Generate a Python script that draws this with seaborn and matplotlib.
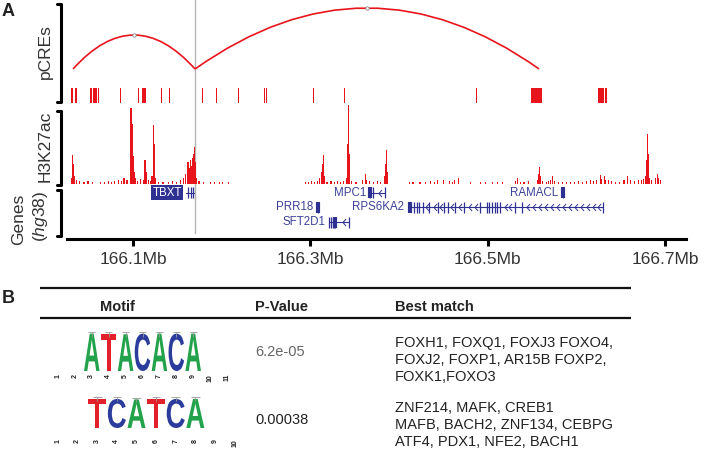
import matplotlib
matplotlib.use("Agg")
import matplotlib.pyplot as plt
import seaborn as sns
from matplotlib.path import Path
from matplotlib.patches import PathPatch
from matplotlib.textpath import TextPath
from matplotlib.font_manager import FontProperties
from matplotlib.transforms import Affine2D

sns.set_style("white")
plt.rcParams["font.family"] = ["Liberation Sans", "DejaVu Sans"]
plt.rcParams["mathtext.fontset"] = "custom"
plt.rcParams["mathtext.rm"] = "Liberation Sans"
plt.rcParams["mathtext.it"] = "Liberation Sans:italic"

# ---------------- data: panel A ----------------
x_range = (166.0255, 166.7237)
x_ticks = [166.1, 166.3, 166.5, 166.7]
focus_pos = 166.1699

loop_start = [166.0323, 166.1699]
loop_end = [166.1699, 166.5580]
loop_score = [34, 61]

pcre_start = [166.0301, 166.0346, 166.0515, 166.0545, 166.0609, 166.0853, 166.1053,
              166.1102, 166.1312, 166.1409, 166.1782, 166.1933, 166.2184, 166.2481,
              166.2500, 166.3034, 166.3383, 166.4866, 166.5490, 166.6242, 166.6328]
pcre_end = [166.0320, 166.0372, 166.0534, 166.0597, 166.0620, 166.0865, 166.1065,
            166.1150, 166.1324, 166.1421, 166.1794, 166.1945, 166.2196, 166.2493,
            166.2512, 166.3046, 166.3395, 166.4878, 166.5610, 166.6316, 166.6347]

k27_pos = [166.0301, 166.0312, 166.0323, 166.0334, 166.0357, 166.0391, 166.0447, 166.0492,
           166.0538, 166.0628, 166.0673, 166.0718, 166.0752, 166.0786, 166.0831, 166.0865,
           166.0898, 166.0932, 166.0966, 166.0977, 166.0989, 166.1000, 166.1011, 166.1023,
           166.1045, 166.1079, 166.1113, 166.1135, 166.1147, 166.1169, 166.1192, 166.1214,
           166.1226, 166.1237, 166.1248, 166.1282, 166.1338, 166.1395, 166.1440, 166.1485,
           166.1530, 166.1564, 166.1587, 166.1609, 166.1620, 166.1632, 166.1643, 166.1654,
           166.1666, 166.1677, 166.1688, 166.1699, 166.1711, 166.1744, 166.1790, 166.1869,
           166.1914, 166.1970, 166.2004, 166.2072, 166.2940, 166.2974, 166.3008, 166.3042,
           166.3076, 166.3098, 166.3121, 166.3132, 166.3143, 166.3154, 166.3188, 166.3233,
           166.3267, 166.3301, 166.3335, 166.3369, 166.3403, 166.3414, 166.3425, 166.3436,
           166.3459, 166.3515, 166.3583, 166.3617, 166.3628, 166.3662, 166.3707, 166.3752,
           166.3786, 166.3831, 166.3843, 166.3854, 166.3865, 166.4113, 166.4158, 166.4237,
           166.4294, 166.4350, 166.4395, 166.4429, 166.4497, 166.4565, 166.4598, 166.4621,
           166.4666, 166.4801, 166.4914, 166.4971, 166.5050, 166.5106, 166.5162, 166.5309,
           166.5332, 166.5365, 166.5410, 166.5456, 166.5557, 166.5568, 166.5580, 166.5591,
           166.5614, 166.5659, 166.5681, 166.5704, 166.5726, 166.5749, 166.5794, 166.5839,
           166.5884, 166.5929, 166.5975, 166.6020, 166.6065, 166.6110, 166.6155, 166.6189,
           166.6223, 166.6268, 166.6279, 166.6313, 166.6324, 166.6358, 166.6392, 166.6437,
           166.6482, 166.6538, 166.6572, 166.6606, 166.6651, 166.6696, 166.6730, 166.6753,
           166.6775, 166.6787, 166.6798, 166.6809, 166.6821, 166.6843, 166.6888, 166.6911,
           166.6922, 166.6945]
k27_val = [6, 29, 20, 8, 4, 3, 2, 3,
           2, 2, 2, 3, 2, 3, 4, 3,
           6, 4, 10, 76, 60, 28, 12, 6,
           3, 5, 4, 24, 12, 4, 3, 8,
           59, 40, 6, 2, 2, 2, 3, 2,
           4, 6, 10, 14, 22, 16, 24, 18,
           26, 30, 37, 22, 6, 3, 2, 2,
           2, 2, 2, 2, 2, 2, 3, 2,
           3, 6, 12, 20, 29, 8, 2, 3,
           2, 3, 2, 3, 6, 40, 79, 30,
           3, 2, 4, 10, 4, 3, 2, 3,
           2, 8, 20, 34, 12, 2, 2, 2,
           2, 3, 2, 4, 4, 3, 2, 4,
           6, 2, 2, 2, 2, 2, 2, 3,
           6, 2, 2, 3, 4, 10, 17, 8,
           3, 2, 3, 4, 8, 3, 2, 2,
           2, 2, 2, 3, 2, 3, 4, 3,
           4, 9, 5, 8, 4, 4, 3, 2,
           2, 4, 8, 4, 3, 4, 4, 5,
           8, 24, 50, 30, 6, 4, 6, 10,
           6, 4]

gene_name = ["TBXT", "MPC1", "RAMACL", "PRR18", "RPS6KA2", "SFT2D1"]
gene_row = [0, 0, 0, 1, 1, 2]
gene_start = [166.1598, 166.3673, 166.5839, 166.3076, 166.4102, 166.3211]
gene_end = [166.1688, 166.3843, 166.5862, 166.3098, 166.6302, 166.3436]
gene_exons = [
    [166.1624, 166.1651, 166.1673],
    [166.3676, 166.3707, 166.3843],
    [166.5850],
    [166.3087],
    [166.4170, 166.4204, 166.4226, 166.4271, 166.4339, 166.4440, 166.4508, 166.4553,
     166.4632, 166.4734, 166.4914, 166.4993, 166.5016, 166.5050, 166.5083, 166.5106,
     166.5140, 166.5309, 166.5388, 166.6302],
    [166.3211, 166.3233, 166.3256, 166.3267, 166.3278, 166.3436],
]
gene_thick = [[], [166.3676], [166.5850], [166.3087], [166.4120], [166.3278]]
gene_arrows = [
    [],
    [166.3786],
    [],
    [],
    [166.4316, 166.4407, 166.4474, 166.4598, 166.4689, 166.4801, 166.4869, 166.5207,
     166.5253, 166.5456, 166.5523, 166.5591, 166.5659, 166.5726, 166.5794, 166.5862,
     166.5929, 166.5997, 166.6065, 166.6132, 166.6200, 166.6256],
    [166.3380],
]

# ---------------- data: panel B ----------------
motif_letters = ["ATACACA", "TCATCA"]
motif_length = [11, 10]
motif_first = [3, 3]
motif_heights = [[1.95, 1.95, 1.92, 1.95, 1.95, 1.95, 1.95], [1.95, 1.95, 1.92, 1.95, 1.95, 1.95]]
p_values = ["6.2e-05", "0.00038"]
best_match = [
    ["FOXH1, FOXQ1, FOXJ3 FOXO4,", "FOXJ2, FOXP1, AR15B FOXP2,", "FOXK1,FOXO3"],
    ["ZNF214, MAFK, CREB1", "MAFB, BACH2, ZNF134, CEBPG", "ATF4, PDX1, NFE2, BACH1"],
]

RED = "#e8141c"
NAVY = "#2e3192"
GENE_TXT = "#3c4199"
GREY = "#b4b4b4"
TXT = "#333333"
LETTER_COL = {"A": "#22a24a", "T": "#e2202b", "C": "#2c3c9c"}

W, H = 709, 451
fig = plt.figure(figsize=(W / 100, H / 100), dpi=100)


def px_axes(x0, y0, x1, y1):
    return fig.add_axes([x0 / W, 1 - y1 / H, (x1 - x0) / W, (y1 - y0) / H])


# overlay for brackets, labels and table
ov = px_axes(0, 0, W, H)
ov.set_xlim(0, W)
ov.set_ylim(H, 0)
ov.axis("off")

AX0, AX1 = 67, 686
ax_arc = px_axes(AX0, 0, AX1, 84)
ax_pcre = px_axes(AX0, 84, AX1, 104)
ax_k27 = px_axes(AX0, 104, AX1, 186)
ax_gene = px_axes(AX0, 186, AX1, 238.5)

for ax in [ax_arc, ax_pcre, ax_k27, ax_gene]:
    ax.set_xlim(*x_range)
    ax.set_facecolor("none")

# ---- loops ----
ax_arc.set_ylim(-15, 69)
ax_arc.axis("off")
for s, e, h in zip(loop_start, loop_end, loop_score):
    mid = (s + e) / 2
    path = Path([(s, 0), (mid, 2 * h), (e, 0)], [Path.MOVETO, Path.CURVE3, Path.CURVE3])
    ax_arc.add_patch(PathPatch(path, fc="none", ec=RED, lw=1.2, zorder=3, clip_on=False))
apex_x = [(s + e) / 2 for s, e in zip(loop_start, loop_end)]
sns.scatterplot(x=apex_x, y=loop_score, ax=ax_arc, s=6, color="white",
                edgecolor="#888888", linewidth=0.6, zorder=4, legend=False)
ax_arc.axvline(focus_pos, color=GREY, lw=1.0, zorder=1)

# ---- pCREs ----
ax_pcre.set_ylim(0, 20)
ax_pcre.axis("off")
ax_pcre.broken_barh([(s, e - s) for s, e in zip(pcre_start, pcre_end)], (1, 15),
                    facecolors=RED, edgecolor="none", zorder=3)
ax_pcre.axvline(focus_pos, color=GREY, lw=1.0, zorder=1)

# ---- H3K27ac ----
ax_k27.set_ylim(-2, 80)
ax_k27.axis("off")
ax_k27.bar(k27_pos, k27_val, width=0.0012, color=RED, linewidth=0, zorder=3)
ax_k27.axvline(focus_pos, color=GREY, lw=1.0, zorder=1)

# ---- genes ----
ax_gene.set_ylim(3.1, -0.45)
ax_gene.axvline(focus_pos, ymin=0.1, ymax=1, color=GREY, lw=1.0, zorder=1)
chevron = Path([(0.45, 1.0), (-0.45, 0.0), (0.45, -1.0)])
for i, name in enumerate(gene_name):
    r = gene_row[i]
    ax_gene.plot([gene_start[i], gene_end[i]], [r, r], color=NAVY, lw=0.8, zorder=3)
    ax_gene.vlines(gene_exons[i], r - 0.38, r + 0.38, color=NAVY, lw=0.9, zorder=3)
    for t in gene_thick[i]:
        ax_gene.vlines(t, r - 0.38, r + 0.38, color=NAVY, lw=3.0, zorder=3)
    if gene_arrows[i]:
        ax_gene.plot(gene_arrows[i], [r] * len(gene_arrows[i]), ls="none", marker=chevron,
                     ms=5, mfc="none", mec=NAVY, mew=0.7, zorder=3)
    if name == "TBXT":
        ax_gene.text(gene_start[i] - 0.0045, r, name, ha="right", va="center", fontsize=8.3,
                     color="white", zorder=4,
                     bbox=dict(boxstyle="square,pad=0.12", fc=NAVY, ec="none"))
    else:
        ax_gene.text(gene_start[i] - 0.0045, r, name, ha="right", va="center", fontsize=8.3,
                     color=GENE_TXT, zorder=4)

sns.despine(ax=ax_gene, left=True, top=True, right=True)
ax_gene.spines["bottom"].set_linewidth(2.2)
ax_gene.spines["bottom"].set_color("black")
ax_gene.set_yticks([])
ax_gene.set_xticks(x_ticks)
ax_gene.set_xticklabels([f"{t:.1f}Mb" for t in x_ticks], fontsize=12.5, color=TXT)
ax_gene.tick_params(axis="x", direction="out", length=5, width=2.2, pad=5, color="black",
                    bottom=True)

# ---- brackets and track labels ----
for y0, y1 in [(4, 102), (111, 185), (190, 236)]:
    ov.plot([57, 61, 61, 57], [y0, y0, y1, y1], color="black", lw=2.2,
            solid_joinstyle="round", solid_capstyle="round")
ov.text(45, 52, "pCREs", rotation=90, ha="center", va="center", fontsize=12.5, color=TXT)
ov.text(45, 146, "H3K27ac", rotation=90, ha="center", va="center", fontsize=12.5, color=TXT)
ov.text(19, 219, "Genes", rotation=90, ha="center", va="center", fontsize=12.5, color=TXT)
ov.text(41, 216, r"($\mathit{hg38}$)", rotation=90, ha="center", va="center", fontsize=12.5,
        color=TXT)
ov.text(2, 3, "A", ha="left", va="top", fontsize=13, fontweight="bold", color="#222222")
ov.text(2, 290, "B", ha="left", va="top", fontsize=13, fontweight="bold", color="#222222")

# ---------------- panel B table ----------------
ov.plot([40, 631], [288, 288], color="#111111", lw=1.6, solid_capstyle="butt")
ov.plot([40, 631], [318, 318], color="#111111", lw=1.6, solid_capstyle="butt")
ov.text(117, 307, "Motif", ha="center", va="center", fontsize=10.5, fontweight="bold", color="#222222")
ov.text(281, 307, "P-Value", ha="center", va="center", fontsize=10.5, fontweight="bold", color="#222222")
ov.text(395, 307, "Best match", ha="left", va="center", fontsize=10.5, fontweight="bold", color="#222222")

row_center = [360, 425]
pval_color = ["#666666", "#222222"]
for k in range(2):
    ov.text(255, [352, 420][k], p_values[k], ha="left", va="center", fontsize=10.5,
            color=pval_color[k])
    ov.text(395, row_center[k], "\n".join(best_match[k]), ha="left", va="center",
            fontsize=10.5, linespacing=1.23, color="#222222")

# ---- motif logos ----
logo_fp = FontProperties(family="Liberation Sans", weight="bold")
logo_boxes = [(49.5, 326, 235.5, 371), (48.2, 393, 244.4, 428)]
for k in range(2):
    x0, y0, x1, y1 = logo_boxes[k]
    lax = px_axes(x0, y0, x1, y1)
    lax.set_facecolor("none")
    n = motif_length[k]
    lax.set_xlim(0.5, n + 0.5)
    lax.set_ylim(0, 2.35)
    for j, letter in enumerate(motif_letters[k]):
        pos = motif_first[k] + j
        h = motif_heights[k][j]
        tp = TextPath((0, 0), letter, size=1, prop=logo_fp)
        bb = tp.get_extents()
        tr = (Affine2D().translate(-bb.x0, -bb.y0)
              .scale(0.92 / bb.width, h / bb.height).translate(pos - 0.46, 0))
        lax.add_patch(PathPatch(tr.transform_path(tp), fc=LETTER_COL[letter], ec="none"))
        lax.vlines(pos, h - 0.15, h + 0.1, color="#9a9a9a", lw=0.6)
        lax.hlines(h + 0.1, pos - 0.22, pos + 0.22, color="#9a9a9a", lw=0.6)
    sns.despine(ax=lax, left=True, bottom=True)
    lax.set_yticks([])
    lax.set_xticks(range(1, n + 1))
    lax.set_xticklabels([str(i) for i in range(1, n + 1)], rotation=90, fontsize=5,
                        fontweight="bold", color="#222222")
    lax.tick_params(axis="x", length=0, pad=[2, 8][k])

fig.savefig("out.png", dpi=100)
